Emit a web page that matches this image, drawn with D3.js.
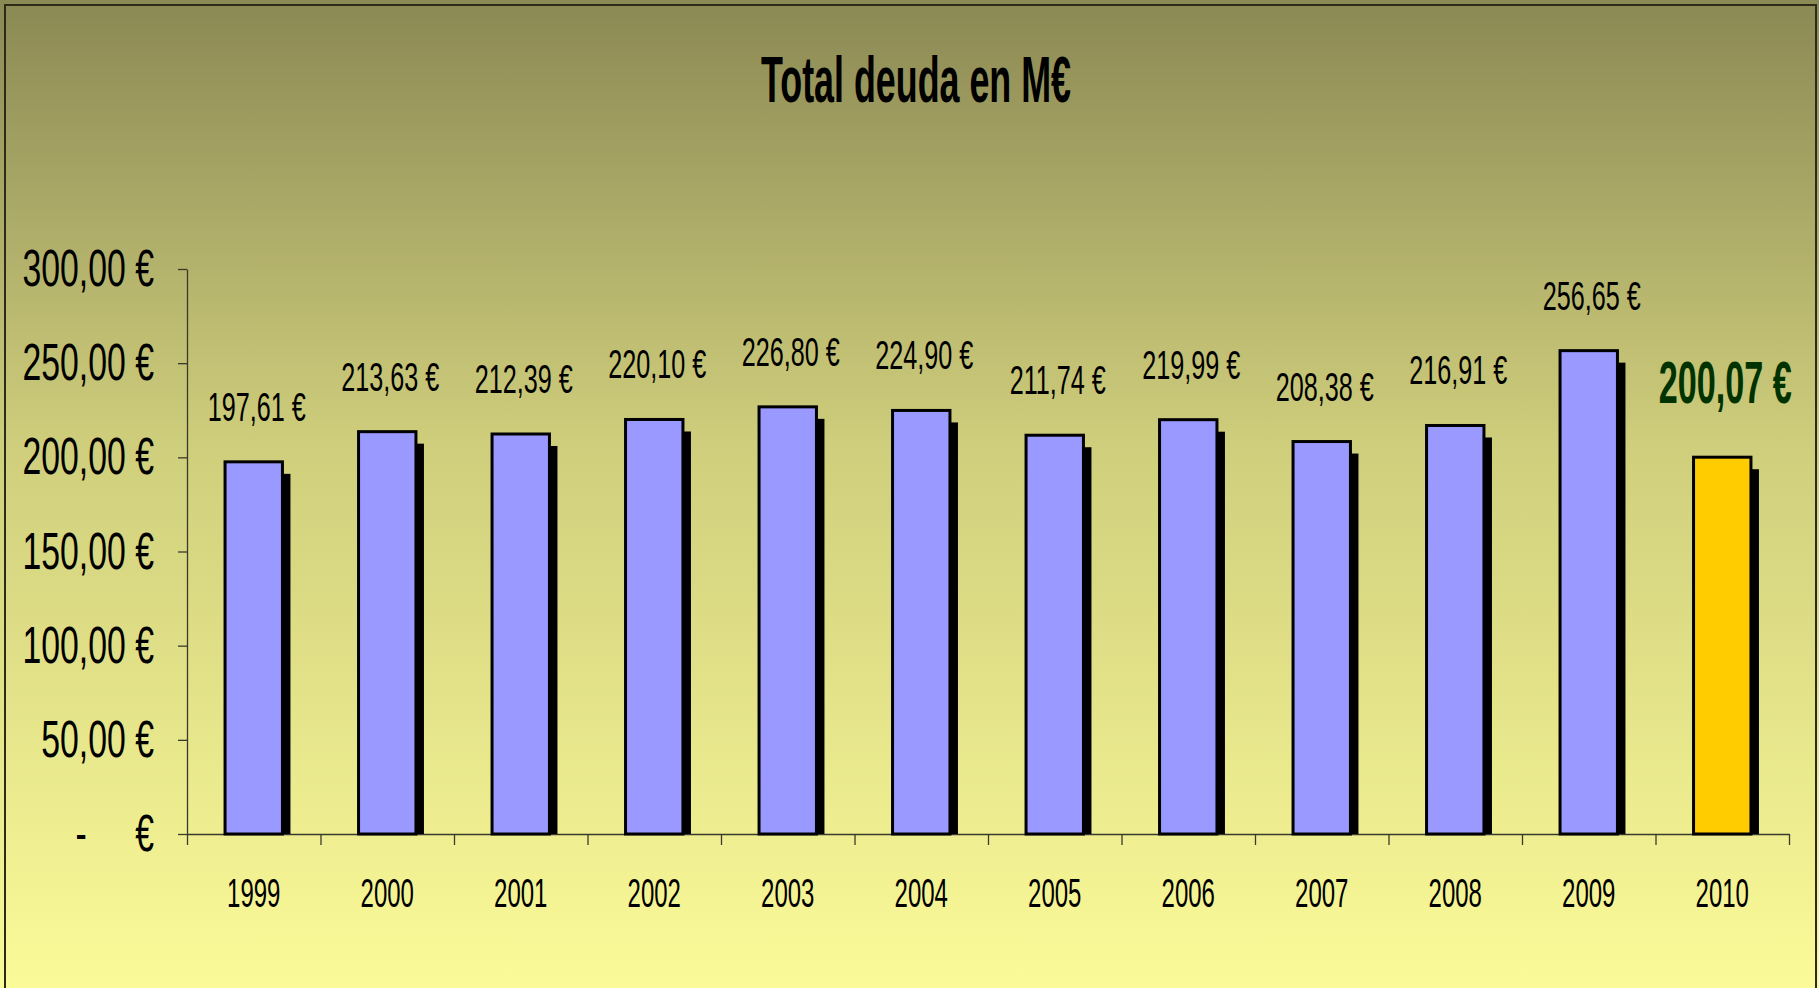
<!DOCTYPE html>
<html lang="es">
<head>
<meta charset="UTF-8">
<title>Total deuda en M€</title>
<script src="https://d3js.org/d3.v7.min.js"></script>
<style>
  body { margin: 0; background: #fafa99; }
  svg { display: block; }
  text { font-family: "Liberation Sans", Arial, sans-serif; fill: #000; }
  .axis path, .axis line { stroke: #3a3a2c; stroke-width: 1.3; }
</style>
</head>
<body>
<svg width="1819" height="988"></svg>
<script>
// data
const years = ['1999', '2000', '2001', '2002', '2003', '2004', '2005', '2006', '2007', '2008', '2009', '2010'];
const deuda = [197.61, 213.63, 212.39, 220.10, 226.80, 224.90, 211.74, 219.99, 208.38, 216.91, 256.65, 200.07];
const yTicks = [0, 50, 100, 150, 200, 250, 300];
const highlightYear = '2010';

const W = 1819, H = 988;
const plotLeft = 187, plotRight = 1789, plotTop = 269, plotBottom = 834;

const es = d3.formatLocale({ decimal: ',', thousands: '.', grouping: [3], currency: ['', ' €'] });
const euro = es.format('$,.2f');

const svg = d3.select('svg');

// background gradient
const defs = svg.append('defs');
const grad = defs.append('linearGradient')
  .attr('id', 'bg').attr('x1', 0).attr('y1', 0).attr('x2', 0).attr('y2', 1);
grad.append('stop').attr('offset', '0%').attr('stop-color', '#8b8954');
grad.append('stop').attr('offset', '45%').attr('stop-color', '#cfce7c');
grad.append('stop').attr('offset', '100%').attr('stop-color', '#fbfb99');

svg.append('rect').attr('width', W).attr('height', H).attr('fill', 'url(#bg)');
svg.append('rect')
  .attr('x', 5).attr('y', 5).attr('width', 1811).attr('height', H + 10)
  .attr('fill', 'none').attr('stroke', '#2b2b18').attr('stroke-width', 2);

// helper: condensed text (the original uses a very narrow face)
function ctext(sel, x, y, str, sx, anchor) {
  return sel.append('g').attr('transform', `translate(${x},${y})`)
    .append('text')
    .attr('transform', `scale(${sx},1)`)
    .attr('text-anchor', anchor || 'middle')
    .text(str);
}

const x = d3.scaleBand()
  .domain(years)
  .range([plotLeft, plotRight])
  .paddingInner(0.57)
  .paddingOuter(0.285);

const y = d3.scaleLinear()
  .domain([0, 300])
  .range([plotBottom, plotTop]);

// title
ctext(svg, 916, 102, 'Total deuda en M€', 0.56)
  .attr('font-size', 64).attr('font-weight', 'bold');

// y axis
svg.append('g')
  .attr('class', 'axis')
  .attr('transform', `translate(${plotLeft},0)`)
  .call(d3.axisLeft(y).tickValues(yTicks).tickSize(9).tickSizeOuter(0).tickFormat(''));

const yLab = svg.append('g').attr('font-size', 52);
yTicks.forEach(t => {
  if (t === 0) {
    ctext(yLab, 154, y(t) + 17, '€', 0.65, 'end');
    ctext(yLab, 81, y(t) + 17, '-', 0.65, 'middle');
  } else {
    ctext(yLab, 154, y(t) + 17, euro(t), 0.65, 'end');
  }
});

// x axis: ticks at category boundaries
const xb = d3.scaleLinear().domain([0, years.length]).range([plotLeft, plotRight]);
svg.append('g')
  .attr('class', 'axis')
  .attr('transform', `translate(0,${plotBottom})`)
  .call(d3.axisBottom(xb).ticks(years.length).tickSize(11).tickSizeOuter(0).tickFormat(''));

const xLab = svg.append('g').attr('font-size', 40);
years.forEach(yr => {
  ctext(xLab, x(yr) + x.bandwidth() / 2, 907, yr, 0.6);
});

// bars with drop shadow
const bars = svg.append('g');
const rows = years.map((yr, i) => ({ year: yr, value: deuda[i] }));

bars.selectAll('.shadow')
  .data(rows)
  .join('rect')
  .attr('class', 'shadow')
  .attr('x', d => x(d.year) + 8)
  .attr('y', d => y(d.value) + 12)
  .attr('width', x.bandwidth())
  .attr('height', d => y(0) - y(d.value) - 12)
  .attr('fill', '#000');

bars.selectAll('.bar')
  .data(rows)
  .join('rect')
  .attr('class', 'bar')
  .attr('x', d => x(d.year))
  .attr('y', d => y(d.value))
  .attr('width', x.bandwidth())
  .attr('height', d => y(0) - y(d.value))
  .attr('fill', d => d.year === highlightYear ? '#ffcc00' : '#9999ff')
  .attr('stroke', '#000')
  .attr('stroke-width', 3);

// value labels
rows.forEach(d => {
  const cx = x(d.year) + x.bandwidth() / 2 + 3;
  if (d.year === highlightYear) {
    ctext(svg, cx, y(d.value) - 54, euro(d.value), 0.57)
      .attr('font-size', 60).attr('font-weight', 'bold').style('fill', '#003300');
  } else {
    ctext(svg, cx, y(d.value) - 41, euro(d.value), 0.63)
      .attr('font-size', 40);
  }
});
</script>
</body>
</html>
